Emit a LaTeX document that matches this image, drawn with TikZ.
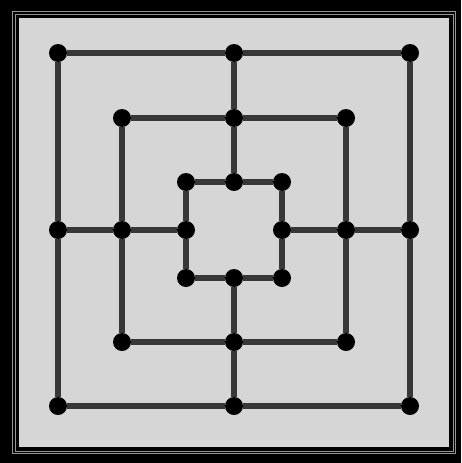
\documentclass[tikz,border=0pt]{standalone}
\usepackage{tikz}
\usetikzlibrary{positioning}

\definecolor{boardbg}{RGB}{214,214,214}
\definecolor{linegray}{RGB}{55,55,55}
\definecolor{rimgray}{RGB}{150,150,150}

\begin{document}
\begin{tikzpicture}[
    x=1pt, y=-1pt,
    spot/.style={circle, fill=black, inner sep=0pt, minimum size=18pt},
    track/.style={draw=linegray, line width=5.5pt},
    rim/.style={draw=rimgray, line width=1pt}
]
% Frame
\fill[black] (0,0) rectangle (461,463);
\useasboundingbox (0,0) rectangle (461,463);
\draw[rim] (12.5,11.5) rectangle (455.5,453.5);
\draw[rim] (15,14) rectangle (453,451);
\fill[boardbg] (19,18) rectangle (449,447);
% Outer square
\node[spot] (o1) at (58,53) {};
\node[spot] (o2) at (234,53) {};
\node[spot] (o3) at (410,53) {};
\node[spot] (o4) at (410,230) {};
\node[spot] (o5) at (410,406) {};
\node[spot] (o6) at (234,406) {};
\node[spot] (o7) at (58,406) {};
\node[spot] (o8) at (58,230) {};
% Middle square
\node[spot] (m1) at (122,118) {};
\node[spot] (m2) at (234,118) {};
\node[spot] (m3) at (346,118) {};
\node[spot] (m4) at (346,230) {};
\node[spot] (m5) at (346,342) {};
\node[spot] (m6) at (234,342) {};
\node[spot] (m7) at (122,342) {};
\node[spot] (m8) at (122,230) {};
% Inner square
\node[spot] (i1) at (186,182) {};
\node[spot] (i2) at (234,182) {};
\node[spot] (i3) at (282,182) {};
\node[spot] (i4) at (282,230) {};
\node[spot] (i5) at (282,278) {};
\node[spot] (i6) at (234,278) {};
\node[spot] (i7) at (186,278) {};
\node[spot] (i8) at (186,230) {};
% Squares
\draw[track] (o1) -- (o2) -- (o3) -- (o4) -- (o5) -- (o6) -- (o7) -- (o8) -- (o1);
\draw[track] (m1) -- (m2) -- (m3) -- (m4) -- (m5) -- (m6) -- (m7) -- (m8) -- (m1);
\draw[track] (i1) -- (i2) -- (i3) -- (i4) -- (i5) -- (i6) -- (i7) -- (i8) -- (i1);
% Cross lines
\draw[track] (o2) -- (m2) -- (i2);
\draw[track] (o4) -- (m4) -- (i4);
\draw[track] (o6) -- (m6) -- (i6);
\draw[track] (o8) -- (m8) -- (i8);
\end{tikzpicture}
\end{document}
